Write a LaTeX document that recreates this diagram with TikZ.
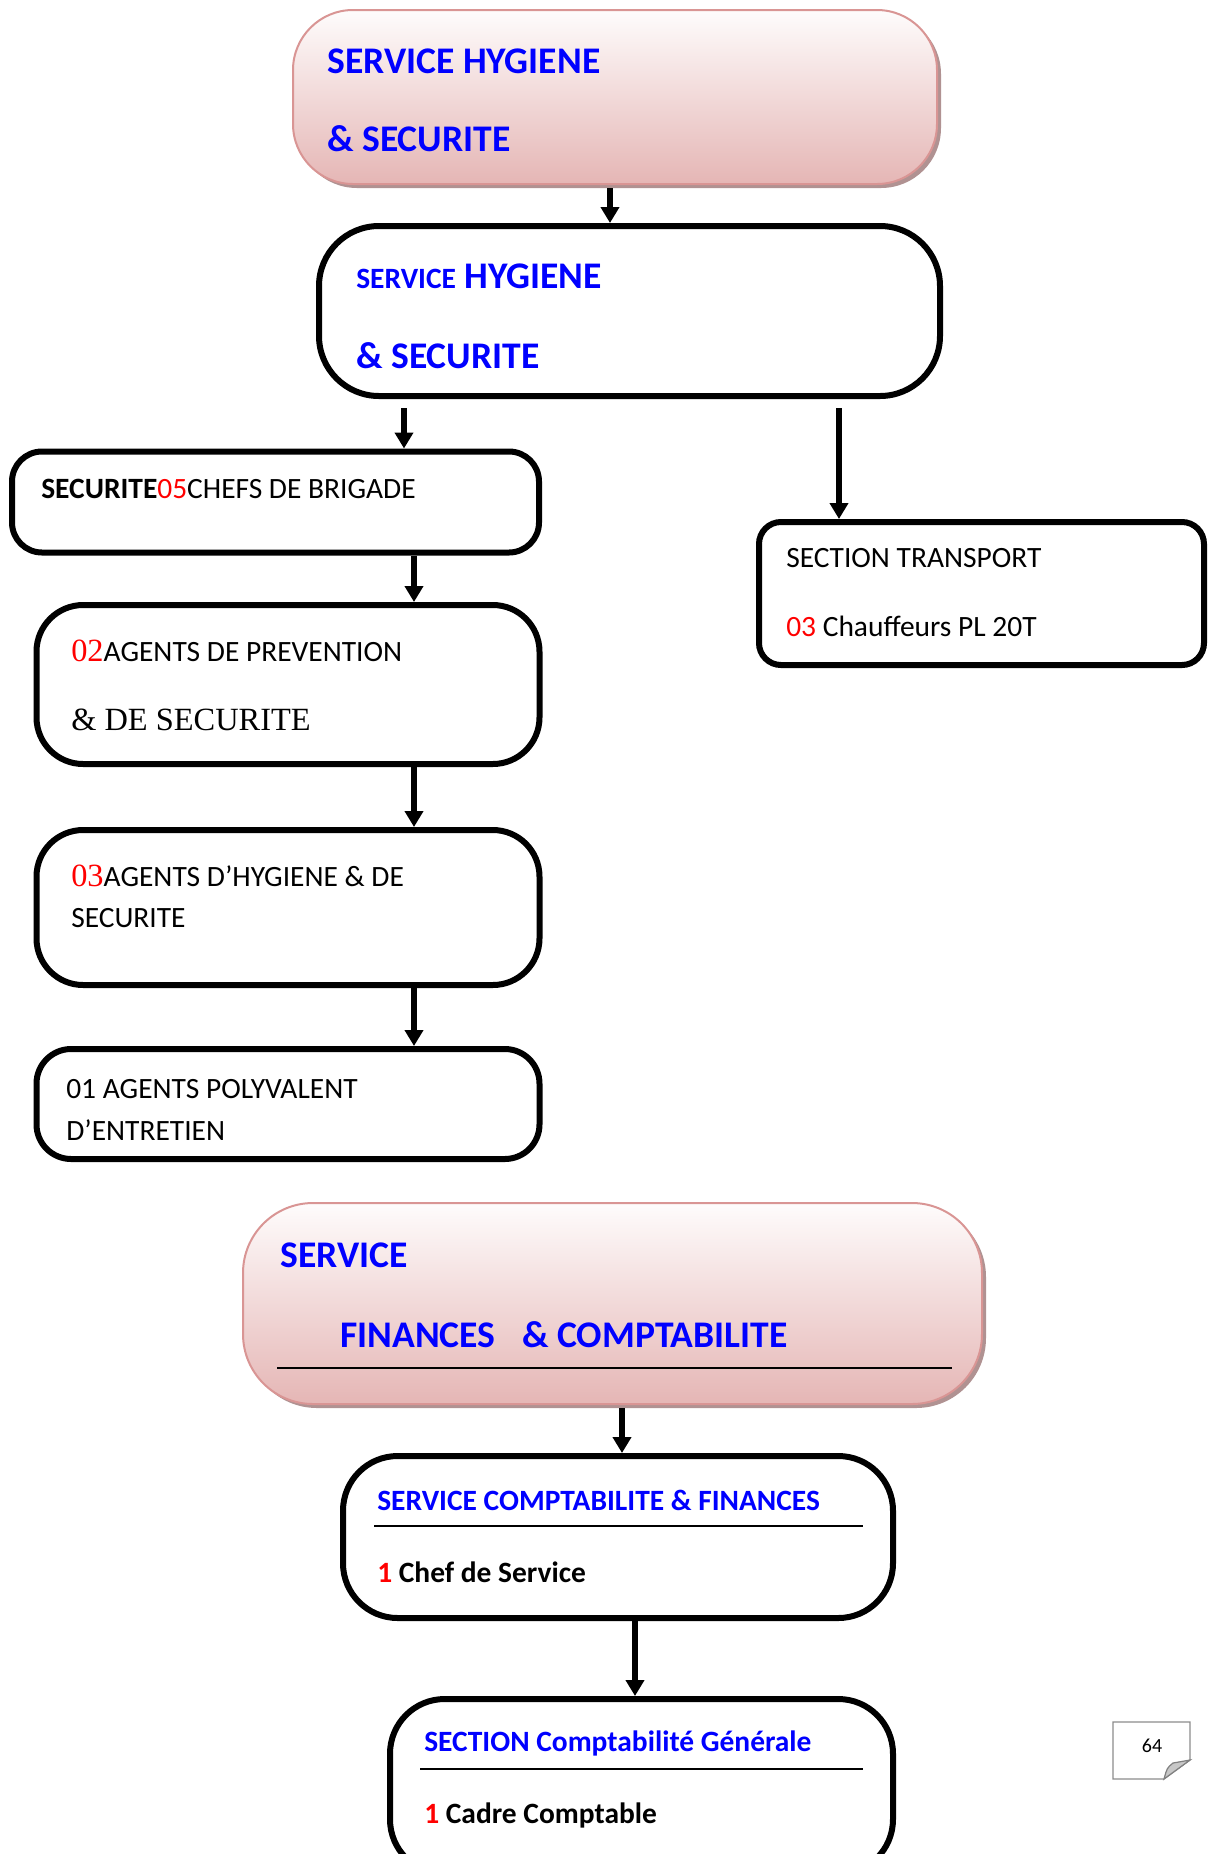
\documentclass[tikz,border=0pt]{standalone}
\usepackage{fontspec}
\setmainfont{Carlito}
\newfontfamily\tnr{Liberation Serif}
\usetikzlibrary{arrows.meta}
\definecolor{hsblue}{RGB}{0,0,255}
\definecolor{hsred}{RGB}{255,0,0}
\definecolor{pinktop}{RGB}{254,252,252}
\definecolor{pinkbot}{RGB}{229,182,181}
\definecolor{pinkline}{RGB}{217,149,148}
\definecolor{pinkshade}{RGB}{176,146,146}
\newcommand\bigtxt{\fontsize{28.2pt}{33pt}\selectfont}
\newcommand\midtxt{\fontsize{22.1pt}{26pt}\selectfont}
\newcommand\romtxt{\tnr\fontsize{24.3pt}{28pt}\selectfont}

\begin{document}
\begin{tikzpicture}[x=0.75pt,y=0.75pt,yscale=-1,xscale=1,
  box/.style={draw, line width=4.5pt, inner sep=0pt},
  pinkbox/.style={draw=pinkline, line width=1.5pt, top color=pinktop, bottom color=pinkbot, inner sep=0pt},
  pinkshadow/.style={fill=pinkshade, inner sep=0pt},
  arr/.style={line width=4pt, -{Triangle[width=13.5pt,length=12pt]}},
  txt/.style={anchor=base west, inner sep=0pt, font=\midtxt},
  ttl/.style={anchor=base west, inner sep=0pt, font=\bigtxt\bfseries, text=hsblue},
  sep/.style={line width=1.5pt}]
\useasboundingbox (0,0) rectangle (1213,1854);

% hygiene & securite
\node[pinkshadow, rounded corners=45pt, minimum width=483pt, minimum height=130.5pt] (p1s) at (619,101) {};
\node[pinkbox, rounded corners=45pt, minimum width=483pt, minimum height=130.5pt] (p1) at (615,97) {};
\node[ttl] (t1a) at (327,73) {SERVICE HYGIENE};
\node[ttl] (t1b) at (327,151) {\& SECURITE};

\node[box, rounded corners=45pt, minimum width=465.75pt, minimum height=127.5pt] (b2) at (629.5,311) {};
\node[ttl] (t2a) at (356,288) {{\midtxt SERVICE} HYGIENE};
\node[ttl] (t2b) at (356,368) {\& SECURITE};

\node[box, rounded corners=22.5pt, minimum width=395.25pt, minimum height=75.75pt] (b3) at (275.5,502) {};
\node[txt] (t3) at (41,498) {{\bfseries SECURITE}{\color{hsred}05}CHEFS DE BRIGADE};

\node[box, rounded corners=35pt, minimum width=377.25pt, minimum height=119.25pt] (b4) at (288,684.5) {};
\node[txt] (t4a) at (71,661) {{\romtxt\color{hsred}02}AGENTS DE PREVENTION};
\node[txt] (t4b) at (71,730) {\romtxt \& DE SECURITE};

\node[box, rounded corners=35pt, minimum width=377.25pt, minimum height=116.25pt] (b5) at (288,907.5) {};
\node[txt] (t5a) at (71,886) {{\romtxt\color{hsred}03}AGENTS D’HYGIENE \& DE};
\node[txt] (t5b) at (71,927) {SECURITE};

\node[box, rounded corners=26pt, minimum width=377.25pt, minimum height=82.5pt] (b6) at (288,1104) {};
\node[txt] (t6a) at (66,1098) {01 AGENTS POLYVALENT};
\node[txt] (t6b) at (66,1140) {D’ENTRETIEN};

\node[box, rounded corners=16.5pt, minimum width=333.75pt, minimum height=107.25pt] (bt) at (981.5,593.5) {};
\node[txt] (tta) at (786,567) {SECTION TRANSPORT};
\node[txt] (ttb) at (786,636) {{\color{hsred}03} Chauffeurs PL 20T};

% arrow columns
\coordinate (k1) at (610,0);
\coordinate (k2) at (404,0);
\coordinate (k3) at (839,0);
\coordinate (k4) at (414,0);
\coordinate (k5) at (622,0);
\coordinate (k6) at (635,0);

\draw[arr] (p1s.south -| k1) -- (b2.north -| k1);
\draw[arr, shorten <=7pt] (b2.south -| k2) -- (b3.north -| k2);
\draw[arr, shorten <=7pt] (b2.south -| k3) -- (bt.north -| k3);
\draw[arr] (b3.south -| k4) -- (b4.north -| k4);
\draw[arr] (b4.south -| k4) -- (b5.north -| k4);
\draw[arr] (b5.south -| k4) -- (b6.north -| k4);

% finances & comptabilite
\node[pinkshadow, rounded corners=52.5pt, minimum width=554.25pt, minimum height=150.75pt] (p2s) at (616.5,1307.5) {};
\node[pinkbox, rounded corners=52.5pt, minimum width=554.25pt, minimum height=150.75pt] (p2) at (612.5,1303.5) {};
\node[ttl] (tp2a) at (280,1267) {SERVICE};
\node[ttl] (tp2b) at (340,1347) {FINANCES\hspace{20pt}\& COMPTABILITE};
\draw[sep] (277,1368) -- (952,1368);

\node[box, rounded corners=41pt, minimum width=412.5pt, minimum height=121.5pt] (f2) at (618,1537) {};
\node[txt, font=\midtxt\bfseries, text=hsblue] (tf2a) at (377,1510) {SERVICE COMPTABILITE \& FINANCES};
\draw[sep] (374,1526) -- (863,1526);
\node[txt, font=\midtxt\bfseries] (tf2b) at (377,1582) {{\color{hsred}1} Chef de Service};

\node[box, rounded corners=41pt, minimum width=377.25pt, minimum height=131.25pt] (f3) at (641.5,1786.5) {};
\node[txt, font=\midtxt\bfseries, text=hsblue] (tf3a) at (424,1751) {SECTION Comptabilité Générale};
\draw[sep] (420,1769) -- (863,1769);
\node[txt, font=\midtxt\bfseries] (tf3b) at (424,1823) {{\color{hsred}1} Cadre Comptable};

\draw[arr] (p2s.south -| k5) -- (f2.north -| k5);
\draw[arr] (f2.south -| k6) -- (f3.north -| k6);

% page number
\draw[draw=black!45, line width=0.9pt, fill=white] (1113,1722) -- (1190,1722) -- (1190,1760) -- (1164,1779) -- (1113,1779) -- cycle;
\draw[draw=black!50, line width=0.9pt, fill=black!22] (1164,1779) .. controls (1167,1768) .. (1173,1763) .. controls (1181,1762) .. (1190,1760) -- cycle;
\node[inner sep=0pt, font=\fontsize{15pt}{18pt}\selectfont] (pg) at (1152,1746) {64};
\end{tikzpicture}
\end{document}
